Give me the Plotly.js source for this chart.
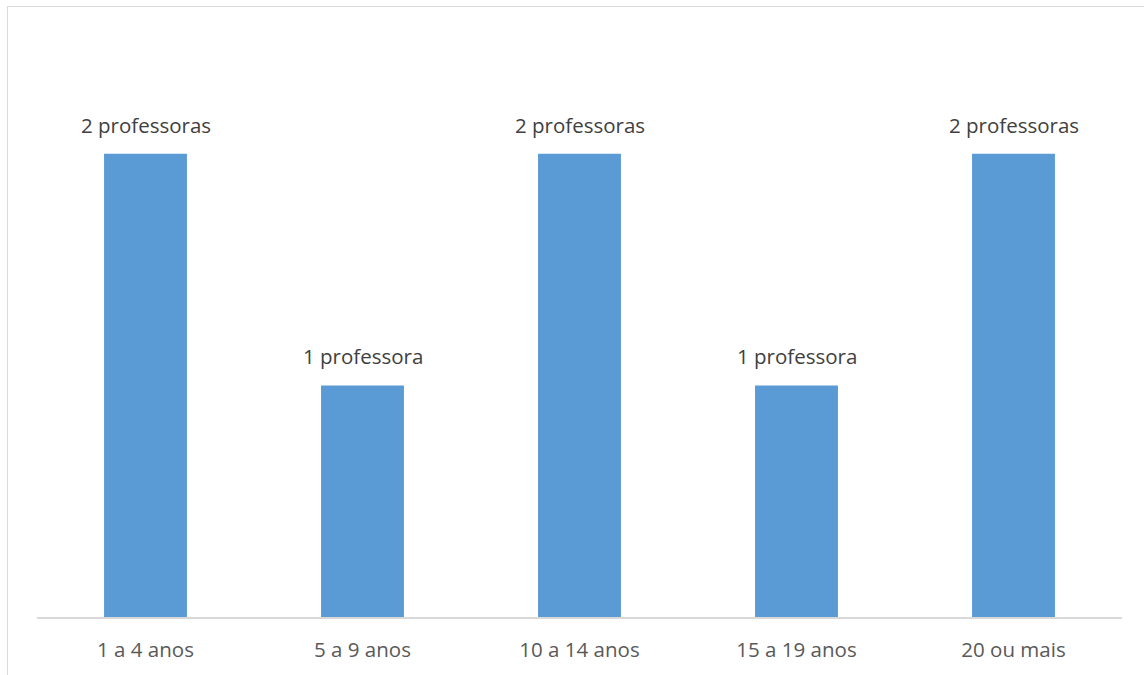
<!DOCTYPE html>
<html>
<head>
<meta charset="utf-8">
<script src="https://cdn.plot.ly/plotly-3.0.1.min.js"></script>
<style>
html, body { margin: 0; padding: 0; background: #fff; overflow: hidden; }
#chart { width: 1144px; height: 675px; position: absolute; left: 0; top: 0; }
#frame { position: absolute; left: 7px; top: 6px; width: 1160px; height: 700px; border: 1.5px solid #d9d9d9; pointer-events: none; }
</style>
</head>
<body>
<div id="chart"></div>
<div id="frame"></div>
<script>
const categories = ["1 a 4 anos", "5 a 9 anos", "10 a 14 anos", "15 a 19 anos", "20 ou mais"];
const values = [2, 1, 2, 1, 2];
const labels = ["2 professoras", "1 professora", "2 professoras", "1 professora", "2 professoras"];

const FONT = "'Open Sans', Lato, sans-serif";
const trace = {
  type: "bar",
  x: categories,
  y: values,
  marker: { color: "#5B9BD5" },
  hoverinfo: "none"
};

const annotations = categories.map((c, i) => ({
  x: c, y: values[i], xref: "x", yref: "y",
  text: labels[i], showarrow: false,
  yanchor: "bottom", yshift: 13,
  font: { family: FONT, size: 20.5, color: "#404040" }
}));

const layout = {
  width: 1144, height: 675,
  margin: { l: 37, r: 22, t: 38, b: 58 },
  paper_bgcolor: "#fff", plot_bgcolor: "#fff",
  bargap: 0.618,
  showlegend: false,
  xaxis: {
    type: "category",
    showline: true, linecolor: "#d9d9d9", linewidth: 1.5,
    showgrid: false, zeroline: false,
    ticks: "", ticklabelstandoff: 14,
    tickfont: { family: FONT, size: 20.5, color: "#595959" }
  },
  yaxis: {
    range: [0, 2.5], visible: false, showgrid: false, zeroline: false, fixedrange: true
  },
  annotations: annotations
};

Plotly.newPlot("chart", [trace], layout, { displayModeBar: false, staticPlot: true });
</script>
</body>
</html>
